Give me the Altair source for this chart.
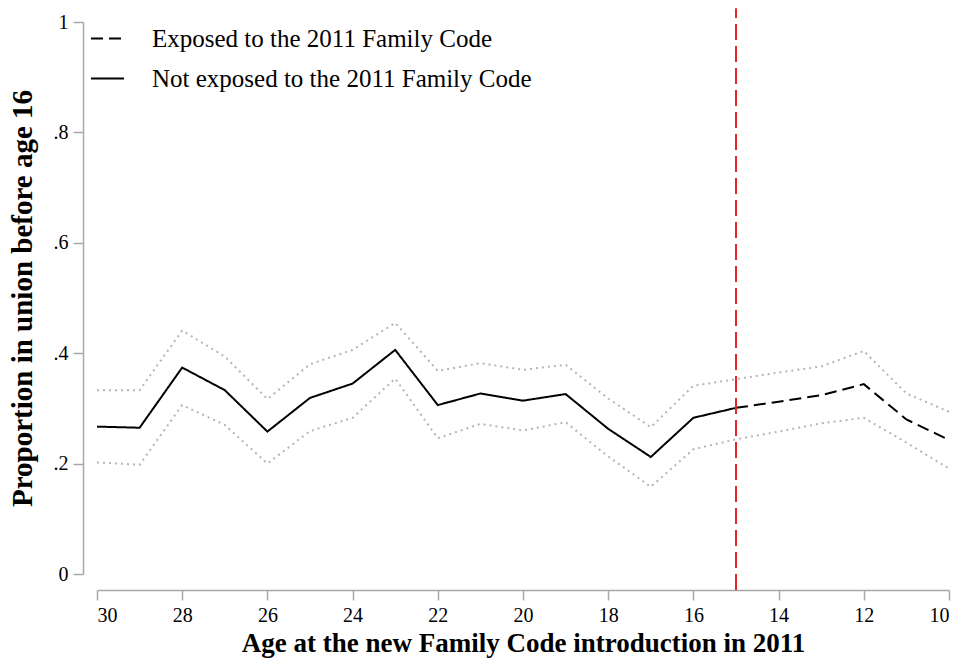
import altair as alt
import pandas as pd

ages = [30, 29, 28, 27, 26, 25, 24, 23, 22, 21, 20, 19, 18, 17, 16, 15, 14, 13, 12, 11, 10]
estimate = [0.267, 0.265, 0.374, 0.333, 0.258, 0.319, 0.345, 0.406, 0.306, 0.327, 0.314, 0.326,
            0.263, 0.212, 0.283, 0.301, 0.312, 0.324, 0.344, 0.280, 0.243]
upper = [0.333, 0.333, 0.441, 0.394, 0.317, 0.380, 0.406, 0.455, 0.368, 0.382, 0.370, 0.379,
         0.318, 0.266, 0.341, 0.353, 0.365, 0.376, 0.404, 0.327, 0.294]
lower = [0.202, 0.198, 0.306, 0.270, 0.200, 0.259, 0.283, 0.354, 0.246, 0.272, 0.260, 0.275,
         0.213, 0.158, 0.226, 0.244, 0.258, 0.273, 0.283, 0.238, 0.191]
groups = ["Exposed to the 2011 Family Code", "Not exposed to the 2011 Family Code"]
cutoff_age = 15
x_ticks = [30, 28, 26, 24, 22, 20, 18, 16, 14, 12, 10]
y_ticks = [0, 0.2, 0.4, 0.6, 0.8, 1]

rows = []
for a, e in zip(ages, estimate):
    if a >= cutoff_age:
        rows.append({"age": a, "value": e, "group": groups[1]})
    if a <= cutoff_age:
        rows.append({"age": a, "value": e, "group": groups[0]})
main_df = pd.DataFrame(rows)

ci_rows = []
for a, u, l in zip(ages, upper, lower):
    ci_rows.append({"age": a, "value": u, "bound": "upper"})
    ci_rows.append({"age": a, "value": l, "bound": "lower"})
ci_df = pd.DataFrame(ci_rows)

vline_df = pd.DataFrame({"age": [cutoff_age], "y0": [-0.029], "y1": [1.025]})

FONT = "Liberation Serif"
AXIS_GRAY = "#a8a8a8"

xscale = alt.Scale(domain=[10, 30], reverse=True, nice=False, zero=False)
yscale = alt.Scale(domain=[0, 1], nice=False)

xaxis = alt.Axis(values=x_ticks, title="Age at the new Family Code introduction in 2011",
                 offset=16, tickSize=10, labelPadding=5, grid=False,
                 titleFontSize=27, titleFontWeight="bold", titlePadding=5,
                 labelFontSize=20, format="d")
yaxis = alt.Axis(values=y_ticks, title="Proportion in union before age 16",
                 offset=14, tickSize=10, labelPadding=5, grid=False,
                 titleFontSize=29, titleFontWeight="bold", titlePadding=16,
                 labelFontSize=20,
                 labelExpr="datum.value == 0 ? '0' : datum.value == 1 ? '1' : replace(format(datum.value, '.1f'), '0.', '.')")

ci = alt.Chart(ci_df).mark_line(color="#b5b5b5", strokeWidth=2, strokeDash=[2, 4]).encode(
    x=alt.X("age:Q", scale=xscale, axis=xaxis),
    y=alt.Y("value:Q", scale=yscale, axis=yaxis),
    detail="bound:N",
)

main = alt.Chart(main_df).mark_line(color="black", strokeWidth=2).encode(
    x=alt.X("age:Q", scale=xscale),
    y=alt.Y("value:Q", scale=yscale),
    strokeDash=alt.StrokeDash(
        "group:N",
        scale=alt.Scale(domain=groups, range=[[12, 6], [1, 0]]),
        legend=alt.Legend(title=None, orient="none", legendX=-7, legendY=-1,
                          symbolType="stroke", symbolSize=1089, symbolStrokeWidth=2,
                          symbolStrokeColor="black", labelFontSize=25, labelOffset=27,
                          rowPadding=9, labelFont=FONT, labelColor="black", labelLimit=0),
    ),
    detail="group:N",
)

vline = alt.Chart(vline_df).mark_rule(color="#e3252b", strokeWidth=2, strokeDash=[16, 6]).encode(
    x=alt.X("age:Q", scale=xscale),
    y=alt.Y("y0:Q", scale=yscale),
    y2="y1:Q",
)

chart = alt.layer(ci, main, vline).properties(
    width=852, height=552,
    autosize=alt.AutoSizeParams(type="none"),
    padding={"left": 97, "top": 22, "right": 12, "bottom": 88},
    background="white",
).configure_view(stroke=None).configure_axis(
    labelFont=FONT, titleFont=FONT, labelColor="black", titleColor="black",
    domainColor=AXIS_GRAY, tickColor=AXIS_GRAY, domainWidth=1.5, tickWidth=1.5,
).configure_legend(labelFont=FONT)

chart.save("out.html", embed_options={"renderer": "svg", "actions": False})
